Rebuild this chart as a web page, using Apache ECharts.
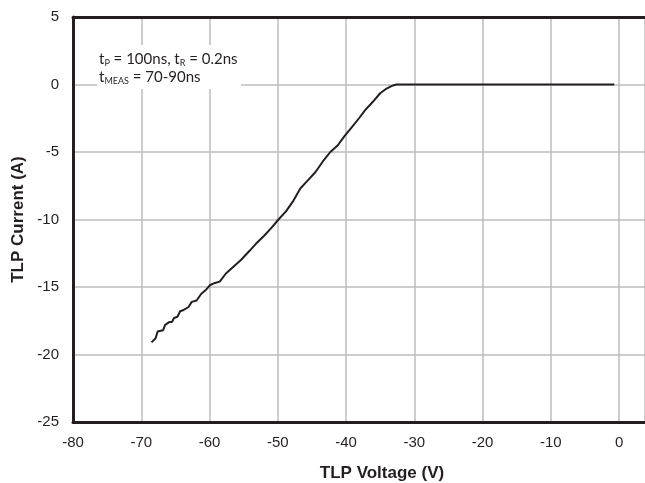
<!DOCTYPE html>
<html>
<head>
<meta charset="utf-8">
<script src="https://cdn.jsdelivr.net/npm/echarts@6/dist/echarts.min.js"></script>
<style>
  html, body { margin: 0; padding: 0; background: #fff; }
  #chart { width: 645px; height: 483px; }
</style>
</head>
<body>
<div id="chart"></div>
<script>
// TLP curve
const voltage = [-68.5, -67.9, -67.7, -67.6, -67.5, -66.8, -66.5, -66.3, -65.9, -65.5, -65.2, -64.7, -64.3, -63.8, -63.1, -62.6, -61.9, -61.2, -60.5, -59.9, -59.2, -58.5, -57.6, -56.5, -55.4, -54.1, -53.2, -52.0, -50.9, -49.9, -48.8, -47.7, -46.7, -45.6, -44.5, -43.4, -42.3, -41.2, -40.2, -39.2, -38.1, -37.2, -36.1, -35.0, -34.2, -33.5, -33.0, -32.6, -20, -10, -0.7];
const current = [-19.1, -18.8, -18.8, -18.3, -18.3, -18.2, -17.8, -17.8, -17.6, -17.6, -17.3, -17.2, -16.8, -16.7, -16.5, -16.1, -16.0, -15.5, -15.2, -14.85, -14.7, -14.6, -14.0, -13.5, -13.0, -12.3, -11.8, -11.2, -10.6, -10.0, -9.4, -8.6, -7.7, -7.1, -6.5, -5.7, -5.0, -4.5, -3.8, -3.2, -2.5, -1.9, -1.3, -0.65, -0.35, -0.16, -0.05, 0, 0, 0, 0];
const xTicks = { min: -80, max: 3.8, step: 10 };
const yTicks = { min: -25, max: 5, step: 5 };

const points = voltage.map((v, i) => [v, current[i]]);

const chart = echarts.init(document.getElementById('chart'));
const labelFont = 'Liberation Sans, Arial, sans-serif';
chart.setOption({
  animation: false,
  grid: { left: 73, right: 0, top: 17, bottom: 61 },
  xAxis: [{
    type: 'value',
    min: xTicks.min,
    max: xTicks.max,
    interval: xTicks.step,
    axisLine: { show: true, onZero: false, lineStyle: { color: '#231f20', width: 3 } },
    axisTick: { show: false },
    axisLabel: { color: '#231f20', fontFamily: labelFont, fontSize: 15, margin: 13, showMaxLabel: false },
    splitLine: { show: true, lineStyle: { color: '#bcbcbc', width: 1.5 } }
  }, {
    type: 'value',
    position: 'top',
    min: xTicks.min,
    max: xTicks.max,
    axisLine: { show: true, onZero: false, lineStyle: { color: '#231f20', width: 3 } },
    axisTick: { show: false },
    axisLabel: { show: false },
    splitLine: { show: false }
  }],
  yAxis: {
    type: 'value',
    min: yTicks.min,
    max: yTicks.max,
    interval: yTicks.step,
    name: 'TLP Current (A)',
    nameLocation: 'middle',
    nameGap: 46,
    nameTextStyle: { color: '#231f20', fontFamily: labelFont, fontSize: 17, fontWeight: 'bold' },
    axisLine: { show: true, onZero: false, lineStyle: { color: '#231f20', width: 3 } },
    axisTick: { show: false },
    axisLabel: { color: '#231f20', fontFamily: labelFont, fontSize: 15, margin: 14 },
    splitLine: { show: true, lineStyle: { color: '#bcbcbc', width: 1.5 } }
  },
  graphic: [
    {
      type: 'rect', left: 97, top: 45, z: 10,
      shape: { width: 144, height: 44 },
      style: { fill: '#fff' }
    },
    {
      type: 'text', x: 99, y: 50, z: 11,
      style: {
        text: '{t|t}{s|P}{t| = 100ns, t}{s|R}{t| = 0.2ns}\n{t|t}{s|MEAS}{t| = 70-90ns}',
        rich: {
          t: { fontFamily: 'Lato, sans-serif', fontSize: 15, lineHeight: 18, fill: '#231f20' },
          s: { fontFamily: 'Lato, sans-serif', fontSize: 9, lineHeight: 8, verticalAlign: 'bottom', fill: '#231f20' }
        }
      }
    },
    {
      type: 'text', x: 382, y: 473, z: 11,
      style: { text: 'TLP Voltage (V)', textAlign: 'center', textVerticalAlign: 'middle', fontFamily: labelFont, fontSize: 17, fontWeight: 'bold', fill: '#231f20' }
    }
  ],
  series: [{
    type: 'line',
    data: points,
    showSymbol: false,
    lineStyle: { color: '#231f20', width: 2 },
    z: 5
  }]
});
</script>
</body>
</html>
